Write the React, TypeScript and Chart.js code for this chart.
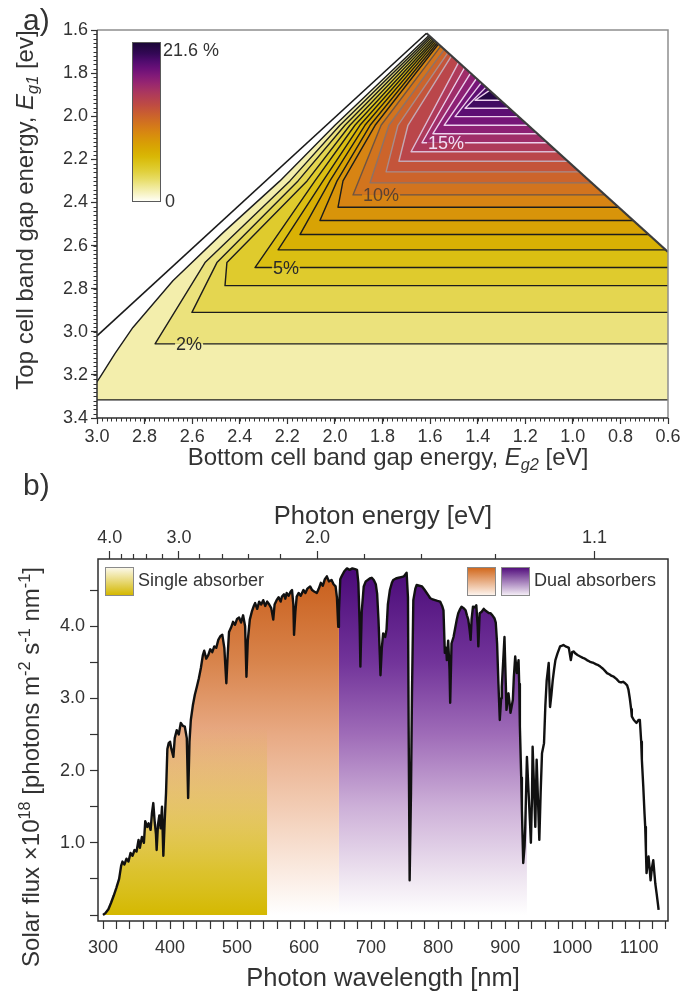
import React, { useEffect, useRef } from 'react';
import { Chart, registerables } from 'chart.js';

Chart.register(...registerables);

const FONT = '"Liberation Sans", Arial, Helvetica, sans-serif';
const INK = '#333333';

/* ---------------- a) efficiency map over the two band gaps ---------------- */
const EG2_RANGE = [0.6, 3.0];
const EG1_RANGE = [1.6, 3.4];
const EG2_TICKS = [3.0, 2.8, 2.6, 2.4, 2.2, 2.0, 1.8, 1.6, 1.4, 1.2, 1.0, 0.8, 0.6];
const EG1_TICKS = [1.6, 1.8, 2.0, 2.2, 2.4, 2.6, 2.8, 3.0, 3.2, 3.4];
const EG_MINOR_STEP = 0.02;
const EFF_MAX = 21.6;

// Allowed region: left edge (Eg1 ~ Eg2) and right edge (Eg1 + Eg2 = GAP_SUM), as [Eg2, Eg1]
const EDGE_LEFT = [[3.0, 3.019], [1.615, 1.615]];
const EDGE_RIGHT = [[1.615, 1.615], [0.6, 2.63]];
const GAP_SUM = 3.23;

// Contour levels (%)
const LEVELS = [1, 2, 3, 4, 5, 6, 7, 8, 9, 10, 11, 12, 13, 14, 15, 16, 17, 18, 19, 20];
// Eg1 of each contour's flat branch
const LEVEL_EG1 = [3.316, 3.056, 2.91, 2.786, 2.702, 2.62, 2.549, 2.484, 2.422, 2.365,
  2.309, 2.258, 2.209, 2.165, 2.123, 2.081, 2.042, 2.002, 1.963, 1.926];
// Eg2 where the flat branch turns upward
const LEVEL_TURN_EG2 = [3.05, 2.756, 2.601, 2.462, 2.336, 2.239, 2.147, 2.063, 1.987, 1.924,
  1.852, 1.785, 1.731, 1.68, 1.634, 1.588, 1.541, 1.495, 1.453, 1.411];
// Eg1 where the rising branch reaches the right edge
const LEVEL_END_EG1 = [1.625, 1.63, 1.635, 1.64, 1.645, 1.65, 1.655, 1.66, 1.665, 1.675,
  1.69, 1.705, 1.72, 1.75, 1.775, 1.8, 1.825, 1.845, 1.865, 1.88];
// Intermediate points of the rising branch, [Eg2, Eg1]
const LEVEL_BENDS: number[][][] = [
  [[2.987, 3.21], [2.924, 3.1], [2.849, 2.98], [2.681, 2.763], [2.47, 2.54], [2.231, 2.3], [2.0, 2.042]],
  [[2.546, 2.679], [2.189, 2.3], [1.979, 2.042]],
  [[2.496, 2.679], [2.155, 2.3], [1.958, 2.042]],
  [[2.454, 2.679], [2.117, 2.3], [1.937, 2.042]],
  [[2.084, 2.3], [1.916, 2.042]],
  [[2.05, 2.3], [1.895, 2.042]],
  [[2.021, 2.3], [1.874, 2.042]],
  [[1.991, 2.3], [1.852, 2.042]],
  [[1.966, 2.3], [1.831, 2.042]],
  [[1.806, 2.042]],
  [[1.773, 2.042]],
  [[1.735, 2.042]],
  [[1.693, 2.042]],
  [], [], [], [], [], [], [],
];
const LEVEL_LINE_COLORS = ['#1c1c1c', '#1c1c1c', '#1c1c1c', '#1c1c1c', '#1c1c1c', '#1c1c1c', '#1c1c1c',
  '#1c1c1c', '#1c1c1c', '#6e5444', '#8c7268', '#a88c8c', '#c4a8b4', '#dcbcd4', '#ecd0ec', '#ecd0ec',
  '#ecd0ec', '#ecd0ec', '#ecd0ec', '#ecd0ec'];

const LABELLED_LEVELS = [2, 5, 10, 15];
const LABEL_EG2 = [2.613, 2.206, 1.806, 1.533];
const LABEL_COLORS = ['#2a2a2a', '#2a2a2a', '#5a4232', '#f2def2'];

// Colour scale (efficiency % -> colour)
const CMAP_VALUES = [0, 1, 2, 3, 4, 5, 6, 7, 8, 9, 10, 11, 12, 13, 14, 15, 16, 17, 18, 19, 20, 21.6];
const CMAP_COLORS = ['#fffff6', '#f7f3c4', '#efe894', '#e7dc64', '#e1d03c', '#dcc51e', '#d9b806',
  '#d8aa02', '#d89c06', '#d88c0e', '#d57c18', '#cf6c24', '#c85c32', '#bf4c42', '#b44052', '#a73462',
  '#972670', '#821a78', '#6a1078', '#500b6e', '#340856', '#180634'];

/* ---------------- b) solar photon flux ---------------- */
const NM_RANGE = [292.5, 1143];
const NM_TICK_STEP = 20;
const NM_LABEL_STEP = 100;
const FLUX_RANGE = [-0.083, 4.93];
const FLUX_TICKS = [0, 0.5, 1, 1.5, 2, 2.5, 3, 3.5, 4, 4.5];
const HC_EV_NM = 1239.84;
const ENERGY_MAJOR = [4.0, 3.0, 2.0, 1.2];
const ENERGY_MAJOR_LABELS = ['4.0', '3.0', '2.0', '1.1'];
const ENERGY_MINOR = [3.8, 3.6, 3.4, 3.2, 2.8, 2.6, 2.4, 2.2, 1.8, 1.6, 1.4];

const SINGLE_BAND_NM = [300, 545];
const DUAL_TOP_BAND_NM = [300, 652];
const DUAL_BOTTOM_BAND_NM = [652, 932.5];

const WAVELENGTH = [300, 304, 308, 312, 316, 320, 324, 327, 329, 332, 335, 338, 341, 344, 347, 350, 353, 355,
  358, 361, 363, 366, 368, 371, 373, 375, 377, 379, 380, 382, 384, 386, 388, 390, 392, 394, 396, 398, 400,
  402, 405, 407, 410, 413, 416, 419, 422, 425, 427, 429, 431, 434, 437, 440, 443, 446, 449, 451, 454, 457,
  460, 463, 466, 469, 472, 475, 478, 481, 484, 486, 488, 491, 494, 497, 500, 503, 506, 509, 512, 514, 516,
  519, 522, 525, 527, 530, 533, 536, 539, 542, 545, 548, 551, 554, 556, 559, 562, 565, 567, 570, 572, 574,
  577, 580, 582, 584, 585, 587, 589, 592, 595, 599, 602, 605, 609, 612, 615, 619, 622, 625, 628, 631, 634,
  637, 641, 644, 647, 649, 651, 652, 654, 656, 660, 664, 668, 672, 676, 679, 681, 683, 684, 686, 689, 692,
  695, 698, 701, 704, 707, 709, 711, 713, 714, 716, 718, 721, 723, 725, 728, 731, 733, 737, 741, 745, 749,
  753, 755, 756, 757.5, 759.5, 761, 763, 766, 768, 772, 776, 780, 783, 786, 788, 792, 795.5, 799, 803, 806,
  808, 810, 812, 813, 815, 817, 818, 820, 823, 825, 828, 830, 833, 835, 838, 841, 843, 845, 847, 848.5, 850,
  852, 855, 857, 859, 860, 862, 865, 868, 870, 873, 876, 878, 881, 884, 886, 888, 890, 892, 894, 895, 897,
  899, 901, 902, 904, 905, 907, 908, 910, 911.5, 913, 915, 917.5, 920, 921, 922, 924, 925, 927, 929, 930,
  932.5, 935, 937, 938.4, 940, 941, 943, 945, 947, 949, 951, 953, 955, 958, 960, 962, 965, 967, 969, 971,
  973, 975, 978, 982, 985, 987, 990, 993, 995, 998, 1000, 1002, 1005, 1008, 1012, 1016, 1019, 1022, 1026,
  1029, 1032, 1036, 1039, 1042, 1046, 1049, 1052, 1056, 1059, 1062, 1066, 1070, 1073, 1076, 1079, 1082,
  1084, 1086, 1088, 1089, 1092, 1094, 1096, 1099, 1101, 1103, 1104, 1106, 1108, 1109, 1110, 1111, 1113,
  1114, 1116, 1117, 1119, 1121, 1123, 1124, 1126, 1128, 1129];
const FLUX = [0.0, 0.03, 0.08, 0.17, 0.27, 0.38, 0.5, 0.68, 0.74, 0.7, 0.78, 0.74, 0.86, 0.82, 0.9, 0.88, 1.04,
  0.93, 1.08, 1.0, 1.3, 1.22, 1.27, 1.18, 1.41, 1.55, 1.3, 1.12, 0.9, 1.25, 1.38, 1.2, 1.5, 0.82, 1.3, 1.69,
  2.3, 2.38, 2.4, 2.3, 2.19, 2.45, 2.56, 2.5, 2.66, 2.62, 2.61, 2.45, 1.62, 2.4, 2.7, 2.9, 3.05, 3.16, 3.28,
  3.42, 3.6, 3.66, 3.55, 3.6, 3.68, 3.64, 3.72, 3.7, 3.81, 3.86, 3.88, 3.7, 3.21, 3.6, 3.92, 3.98, 4.06,
  4.02, 4.1, 4.12, 4.05, 4.15, 4.0, 3.3, 3.8, 4.09, 4.2, 4.28, 4.32, 4.24, 4.34, 4.3, 4.36, 4.28, 4.34, 4.3,
  4.25, 4.09, 4.3, 4.36, 4.4, 4.34, 4.41, 4.44, 4.38, 4.46, 4.42, 4.48, 4.5, 4.3, 3.88, 4.2, 4.41, 4.46,
  4.42, 4.5, 4.46, 4.52, 4.55, 4.5, 4.48, 4.46, 4.52, 4.6, 4.56, 4.65, 4.69, 4.62, 4.64, 4.58, 4.55, 4.4,
  3.99, 4.2, 4.65, 4.69, 4.76, 4.8, 4.78, 4.8, 4.79, 4.78, 4.6, 4.0, 3.44, 4.2, 4.55, 4.62, 4.64, 4.66,
  4.67, 4.64, 4.58, 4.45, 4.09, 3.6, 3.32, 3.7, 3.9, 3.85, 3.95, 4.3, 4.5, 4.6, 4.64, 4.66, 4.67, 4.68,
  4.69, 4.74, 4.4, 2.61, 0.48, 1.69, 3.07, 4.36, 4.52, 4.57, 4.56, 4.55, 4.5, 4.46, 4.42, 4.39, 4.37, 4.36,
  4.35, 4.34, 4.28, 4.22, 3.63, 3.7, 3.53, 3.8, 3.4, 2.94, 3.76, 3.85, 3.95, 4.1, 4.18, 4.24, 4.27, 4.25,
  4.22, 4.15, 4.09, 3.95, 3.81, 4.1, 4.27, 4.26, 4.29, 4.0, 3.72, 4.18, 4.2, 4.24, 4.22, 4.2, 4.18, 4.18,
  4.15, 4.11, 4.05, 3.76, 3.2, 2.7, 3.0, 3.16, 3.5, 3.85, 3.2, 2.84, 3.0, 3.07, 2.9, 2.8, 2.9, 2.98, 3.3,
  3.58, 3.35, 3.53, 3.2, 2.61, 1.9, 1.45, 0.72, 0.95, 1.22, 2.19, 1.69, 1.3, 1.0, 1.6, 2.33, 1.8, 1.22,
  2.15, 1.6, 1.04, 1.7, 2.24, 2.38, 2.9, 3.25, 3.49, 2.88, 3.05, 3.25, 3.4, 3.53, 3.62, 3.72, 3.73, 3.74,
  3.72, 3.71, 3.7, 3.53, 3.64, 3.65, 3.62, 3.6, 3.58, 3.56, 3.55, 3.53, 3.51, 3.5, 3.49, 3.47, 3.46, 3.44,
  3.41, 3.38, 3.35, 3.33, 3.31, 3.3, 3.27, 3.23, 3.22, 3.23, 3.21, 3.18, 3.12, 3.0, 2.85, 2.75, 2.7, 2.68,
  2.66, 2.7, 2.7, 2.4, 2.15, 1.8, 1.4, 1.22, 0.9, 0.58, 0.75, 0.81, 0.6, 0.48, 0.65, 0.76, 0.55, 0.44, 0.3,
  0.15, 0.07];

// Fill shading of the absorber bands, [flux value, colour]
const ORANGE_STOPS_V = [0, 0.5, 1.5, 2.5, 3.5, 4.8];
const ORANGE_STOPS_C = ['#ffffff', '#fbeee6', '#f2ccb4', '#e8aa84', '#d8844c', '#c85c18'];
const PURPLE_STOPS_V = [0, 0.5, 1.5, 2.5, 3.5, 4.8];
const PURPLE_STOPS_C = ['#ffffff', '#efe6f1', '#cdb0d8', '#9f6cb8', '#72349a', '#4a0a78'];
const YELLOW_STOPS_V = [0, 0.6, 1.5, 2.6];
const YELLOW_STOPS_C = ['rgba(212,184,0,1)', 'rgba(212,184,0,0.8)', 'rgba(212,184,0,0.42)', 'rgba(212,184,0,0)'];

/* ---------------- helpers ---------------- */
function hexToRgb(h: string) {
  const n = parseInt(h.slice(1), 16);
  return [(n >> 16) & 255, (n >> 8) & 255, n & 255];
}
function effColor(v: number) {
  if (v <= CMAP_VALUES[0]) return CMAP_COLORS[0];
  for (let i = 1; i < CMAP_VALUES.length; i++) {
    if (v <= CMAP_VALUES[i]) {
      const t = (v - CMAP_VALUES[i - 1]) / (CMAP_VALUES[i] - CMAP_VALUES[i - 1]);
      const a = hexToRgb(CMAP_COLORS[i - 1]);
      const b = hexToRgb(CMAP_COLORS[i]);
      return `rgb(${a.map((c, k) => Math.round(c + (b[k] - c) * t)).join(',')})`;
    }
  }
  return CMAP_COLORS[CMAP_COLORS.length - 1];
}
function bandColor(level: number) {
  const top = LEVELS[LEVELS.length - 1];
  return effColor(level >= top ? (level + EFF_MAX) / 2 : level + 0.5);
}
const P = (eg2: number, eg1: number) => ({ x: eg2, y: eg1 });
const RIGHT_VERTEX_EG1 = EDGE_RIGHT[1][1];

function contourPoints(i: number) {
  const c = LEVEL_EG1[i];
  const pts = [c >= RIGHT_VERTEX_EG1 ? P(EG2_RANGE[0], c) : P(GAP_SUM - c, c), P(LEVEL_TURN_EG2[i], c)];
  LEVEL_BENDS[i].forEach(([a, b]) => pts.push(P(a, b)));
  const e = LEVEL_END_EG1[i];
  pts.push(P(GAP_SUM - e, e));
  return pts;
}
function regionPoints(i: number) {
  const pts = contourPoints(i);
  if (LEVEL_EG1[i] >= RIGHT_VERTEX_EG1) pts.push(P(EDGE_RIGHT[1][0], EDGE_RIGHT[1][1]));
  return pts;
}
function verticalGradient(chart: any, values: number[], colors: string[]) {
  const y = chart.scales && chart.scales.y;
  if (!chart.chartArea || !y) return colors[colors.length - 1];
  const v0 = values[0];
  const v1 = values[values.length - 1];
  const g = chart.ctx.createLinearGradient(0, y.getPixelForValue(v0), 0, y.getPixelForValue(v1));
  values.forEach((v, k) => g.addColorStop((v - v0) / (v1 - v0), colors[k]));
  return g;
}

const tickFont = { family: FONT, size: 18 };

/* ---------------- plugins ---------------- */
const mapExtras = {
  id: 'mapExtras',
  afterDatasetsDraw(chart: any) {
    const { ctx, chartArea: ca, scales } = chart;
    const x = scales.x;
    const y = scales.y;
    ctx.save();

    // inline contour labels
    ctx.font = `18px ${FONT}`;
    ctx.textAlign = 'center';
    ctx.textBaseline = 'alphabetic';
    LABELLED_LEVELS.forEach((lv, j) => {
      const px = x.getPixelForValue(LABEL_EG2[j]);
      const py = y.getPixelForValue(LEVEL_EG1[lv - 1]);
      const text = `${lv}%`;
      const w = ctx.measureText(text).width + 2;
      ctx.fillStyle = bandColor(lv);
      ctx.fillRect(px - w / 2, py - 5, w, 5);
      ctx.fillStyle = bandColor(lv - 1);
      ctx.fillRect(px - w / 2, py, w, 5);
      ctx.fillStyle = LABEL_COLORS[j];
      ctx.fillText(text, px, py + 6.5);
    });

    // colour bar
    const bx = ca.left + 35;
    const by = ca.top + 12;
    const bw = 28;
    const bh = 159;
    const g = ctx.createLinearGradient(0, by + bh, 0, by);
    CMAP_VALUES.forEach((v, k) => g.addColorStop(v / EFF_MAX, CMAP_COLORS[k]));
    ctx.fillStyle = g;
    ctx.fillRect(bx, by, bw, bh);
    ctx.lineWidth = 1;
    ctx.strokeStyle = '#5a5a5a';
    ctx.strokeRect(bx + 0.5, by + 0.5, bw, bh);
    ctx.fillStyle = INK;
    ctx.textAlign = 'left';
    ctx.font = `18px ${FONT}`;
    ctx.fillText(`${EFF_MAX} %`, bx + bw + 3, by + 13.5);
    ctx.fillText('0', bx + bw + 5, by + bh + 5.5);

    // frame
    ctx.lineWidth = 1.5;
    ctx.strokeStyle = '#8e8e8e';
    ctx.beginPath();
    ctx.moveTo(ca.left, ca.top);
    ctx.lineTo(ca.right, ca.top);
    ctx.lineTo(ca.right, ca.bottom);
    ctx.stroke();
    ctx.strokeStyle = '#2e2e2e';
    ctx.beginPath();
    ctx.moveTo(ca.left, ca.top);
    ctx.lineTo(ca.left, ca.bottom);
    ctx.lineTo(ca.right, ca.bottom);
    ctx.stroke();

    // minor ticks
    ctx.lineWidth = 1;
    ctx.strokeStyle = INK;
    ctx.beginPath();
    const ny = Math.round((EG1_RANGE[1] - EG1_RANGE[0]) / EG_MINOR_STEP);
    for (let k = 0; k <= ny; k++) {
      const py = Math.round(y.getPixelForValue(EG1_RANGE[0] + k * EG_MINOR_STEP)) + 0.5;
      ctx.moveTo(ca.left, py);
      ctx.lineTo(ca.left - 3.5, py);
    }
    const nx = Math.round((EG2_RANGE[1] - EG2_RANGE[0]) / EG_MINOR_STEP);
    for (let k = 0; k <= nx; k++) {
      const px = Math.round(x.getPixelForValue(EG2_RANGE[0] + k * EG_MINOR_STEP)) + 0.5;
      ctx.moveTo(px, ca.bottom);
      ctx.lineTo(px, ca.bottom + 3.5);
    }
    ctx.stroke();
    ctx.restore();
  },
};

const fluxExtras = {
  id: 'fluxExtras',
  afterDatasetsDraw(chart: any) {
    const { ctx, chartArea: ca, scales } = chart;
    ctx.save();
    ctx.lineWidth = 1.5;
    ctx.strokeStyle = '#2e2e2e';
    ctx.strokeRect(ca.left, ca.top, ca.right - ca.left, ca.bottom - ca.top);
    ctx.lineWidth = 1.2;
    ctx.strokeStyle = INK;
    ctx.beginPath();
    ENERGY_MINOR.forEach((e) => {
      const px = Math.round(scales.xTop.getPixelForValue(HC_EV_NM / e)) + 0.5;
      ctx.moveTo(px, ca.top);
      ctx.lineTo(px, ca.top - 5);
    });
    ctx.stroke();
    ctx.restore();
  },
};

function zeroPad(s: any) {
  s.paddingLeft = 0;
  s.paddingRight = 0;
  s.paddingTop = 0;
  s.paddingBottom = 0;
}

function buildMapConfig(): any {
  const fills = LEVELS.map((lv, i) => ({
    data: regionPoints(i),
    showLine: true,
    fill: 'shape',
    backgroundColor: bandColor(lv),
    borderWidth: 0,
    pointRadius: 0,
    order: 100 - i,
  }));
  const lines = LEVELS.map((lv, i) => ({
    data: contourPoints(i),
    showLine: true,
    fill: false,
    borderColor: LEVEL_LINE_COLORS[i],
    borderWidth: 1.4,
    borderJoinStyle: 'round',
    pointRadius: 0,
    order: 5,
  }));
  const edges = [
    { data: EDGE_LEFT.map(([a, b]) => P(a, b)), showLine: true, fill: false, borderColor: '#1a1a1a', borderWidth: 1.6, pointRadius: 0, order: 1 },
    { data: EDGE_RIGHT.map(([a, b]) => P(a, b)), showLine: true, fill: false, borderColor: '#3c3c3c', borderWidth: 2.2, pointRadius: 0, order: 1 },
  ];
  return {
    type: 'scatter',
    data: { datasets: [...edges, ...lines, ...fills] },
    options: {
      animation: false,
      responsive: false,
      maintainAspectRatio: false,
      devicePixelRatio: 1,
      events: [],
      layout: { padding: { left: 0, right: 13, top: 30, bottom: 0 } },
      elements: { point: { radius: 0 }, line: { tension: 0 } },
      plugins: { legend: { display: false }, tooltip: { enabled: false } },
      scales: {
        x: {
          type: 'linear', min: EG2_RANGE[0], max: EG2_RANGE[1], reverse: true,
          afterBuildTicks: (s: any) => { s.ticks = EG2_TICKS.map((v) => ({ value: v })); },
          afterFit: (s: any) => { s.height = 62; zeroPad(s); },
          ticks: { font: tickFont, color: INK, padding: 2, maxRotation: 0, autoSkip: false, callback: (v: any) => Number(v).toFixed(1) },
          grid: { drawOnChartArea: false, tickLength: 6, color: INK, tickWidth: 1.2 },
          border: { display: false },
        },
        y: {
          type: 'linear', min: EG1_RANGE[0], max: EG1_RANGE[1], reverse: true,
          afterBuildTicks: (s: any) => { s.ticks = EG1_TICKS.map((v) => ({ value: v })); },
          afterFit: (s: any) => { s.width = 97; zeroPad(s); },
          ticks: { font: tickFont, color: INK, padding: 3, autoSkip: false, callback: (v: any) => Number(v).toFixed(1) },
          grid: { drawOnChartArea: false, tickLength: 6, color: INK, tickWidth: 1.2 },
          border: { display: false },
        },
      },
    },
    plugins: [mapExtras],
  };
}

function buildFluxConfig(): any {
  const spectrum = WAVELENGTH.map((w, i) => ({ x: w, y: FLUX[i] }));
  const band = (r: number[]) => spectrum.filter((p) => p.x >= r[0] && p.x <= r[1]);
  const nmTicks: number[] = [];
  for (let v = 300; v <= NM_RANGE[1]; v += NM_TICK_STEP) nmTicks.push(v);
  return {
    type: 'scatter',
    data: {
      datasets: [
        { data: spectrum, showLine: true, fill: false, borderColor: '#111111', borderWidth: 2.4, borderJoinStyle: 'round', pointRadius: 0, order: 0 },
        { data: band(SINGLE_BAND_NM), showLine: true, fill: 'origin', borderWidth: 0, pointRadius: 0, order: 1,
          backgroundColor: (c: any) => verticalGradient(c.chart, YELLOW_STOPS_V, YELLOW_STOPS_C) },
        { data: band(DUAL_TOP_BAND_NM), showLine: true, fill: 'origin', borderWidth: 0, pointRadius: 0, order: 2,
          backgroundColor: (c: any) => verticalGradient(c.chart, ORANGE_STOPS_V, ORANGE_STOPS_C) },
        { data: band(DUAL_BOTTOM_BAND_NM), showLine: true, fill: 'origin', borderWidth: 0, pointRadius: 0, order: 2,
          backgroundColor: (c: any) => verticalGradient(c.chart, PURPLE_STOPS_V, PURPLE_STOPS_C) },
      ],
    },
    options: {
      animation: false,
      responsive: false,
      maintainAspectRatio: false,
      devicePixelRatio: 1,
      events: [],
      layout: { padding: { left: 0, right: 13, top: 0, bottom: 0 } },
      elements: { point: { radius: 0 }, line: { tension: 0 } },
      plugins: { legend: { display: false }, tooltip: { enabled: false } },
      scales: {
        x: {
          type: 'linear', position: 'bottom', min: NM_RANGE[0], max: NM_RANGE[1],
          afterBuildTicks: (s: any) => { s.ticks = nmTicks.map((v) => ({ value: v })); },
          afterFit: (s: any) => { s.height = 73; zeroPad(s); },
          ticks: { font: tickFont, color: INK, padding: 8, maxRotation: 0, autoSkip: false,
            callback: (v: any) => (Number(v) % NM_LABEL_STEP === 0 ? String(v) : '') },
          grid: { drawOnChartArea: false, tickLength: 8, color: INK, tickWidth: 1.2 },
          border: { display: false },
        },
        xTop: {
          type: 'linear', position: 'top', min: NM_RANGE[0], max: NM_RANGE[1],
          afterBuildTicks: (s: any) => { s.ticks = ENERGY_MAJOR.map((e) => ({ value: HC_EV_NM / e })); },
          afterFit: (s: any) => { s.height = 79; zeroPad(s); },
          ticks: { font: tickFont, color: INK, padding: 2, maxRotation: 0, autoSkip: false,
            callback: (_v: any, i: number) => ENERGY_MAJOR_LABELS[i] },
          grid: { drawOnChartArea: false, tickLength: 8, color: INK, tickWidth: 1.2 },
          border: { display: false },
        },
        y: {
          type: 'linear', min: FLUX_RANGE[0], max: FLUX_RANGE[1],
          afterBuildTicks: (s: any) => { s.ticks = FLUX_TICKS.map((v) => ({ value: v })); },
          afterFit: (s: any) => { s.width = 98; zeroPad(s); },
          ticks: { font: tickFont, color: INK, padding: 5, autoSkip: false,
            callback: (v: any) => (Number.isInteger(Number(v)) && Number(v) > 0 ? Number(v).toFixed(1) : '') },
          grid: { drawOnChartArea: false, tickLength: 8, color: INK, tickWidth: 1.2 },
          border: { display: false },
        },
      },
    },
    plugins: [fluxExtras],
  };
}

const abs = (extra: React.CSSProperties): React.CSSProperties => ({ position: 'absolute', whiteSpace: 'nowrap', ...extra });
const centred = (cx: number, cy: number, size: number, rotate = false): React.CSSProperties =>
  abs({ left: cx, top: cy, fontSize: size, lineHeight: 1.15, transform: `translate(-50%, -50%)${rotate ? ' rotate(-90deg)' : ''}` });
const subStyle: React.CSSProperties = { fontSize: '0.68em', verticalAlign: '-0.28em', lineHeight: 0 };
const supStyle: React.CSSProperties = { fontSize: '0.68em', verticalAlign: '0.55em', lineHeight: 0 };
const box = (left: number, bg: string): React.CSSProperties =>
  abs({ left, top: 567, width: 27, height: 27, border: '1.5px solid #8a8a8a', background: bg });

export default function App() {
  const mapRef = useRef<HTMLCanvasElement>(null);
  const fluxRef = useRef<HTMLCanvasElement>(null);

  useEffect(() => {
    const mapChart = new Chart(mapRef.current as HTMLCanvasElement, buildMapConfig());
    const fluxChart = new Chart(fluxRef.current as HTMLCanvasElement, buildFluxConfig());
    return () => {
      mapChart.destroy();
      fluxChart.destroy();
    };
  }, []);

  return (
    <div style={{ position: 'absolute', left: 0, top: 0, width: 681, height: 994, fontFamily: FONT, color: INK, background: '#ffffff' }}>
      <canvas ref={mapRef} width={681} height={480} style={{ position: 'absolute', left: 0, top: 0, width: 681, height: 480 }} />
      <canvas ref={fluxRef} width={681} height={514} style={{ position: 'absolute', left: 0, top: 480, width: 681, height: 514 }} />

      <div style={abs({ left: 23, top: 5, fontSize: 30, lineHeight: '30px' })}>a)</div>
      <div style={centred(25, 210, 24, true)}>
        Top cell band gap energy, <i>E</i><sub style={subStyle}><i>g1</i></sub> [ev]
      </div>
      <div style={centred(388, 457, 24)}>
        Bottom cell band gap energy, <i>E</i><sub style={subStyle}><i>g2</i></sub> [eV]
      </div>

      <div style={abs({ left: 23, top: 470, fontSize: 30, lineHeight: '30px' })}>b)</div>
      <div style={centred(383, 516, 25.5)}>Photon energy [eV]</div>
      <div style={centred(31, 767, 24, true)}>
        Solar flux ×10<sup style={supStyle}>18</sup> [photons m<sup style={supStyle}>-2</sup> s<sup style={supStyle}>-1</sup> nm<sup style={supStyle}>-1</sup>]
      </div>
      <div style={centred(383, 978, 25.5)}>Photon wavelength [nm]</div>

      <div style={box(105, 'linear-gradient(to bottom, #fbf8e8, #d4b800)')} />
      <div style={abs({ left: 138, top: 569, fontSize: 18, lineHeight: '22px' })}>Single absorber</div>
      <div style={box(467, 'linear-gradient(to bottom, #d2691e, #fdf3ec)')} />
      <div style={box(501, 'linear-gradient(to bottom, #54107e, #f3ecf5)')} />
      <div style={abs({ left: 534, top: 569, fontSize: 18, lineHeight: '22px' })}>Dual absorbers</div>
    </div>
  );
}
